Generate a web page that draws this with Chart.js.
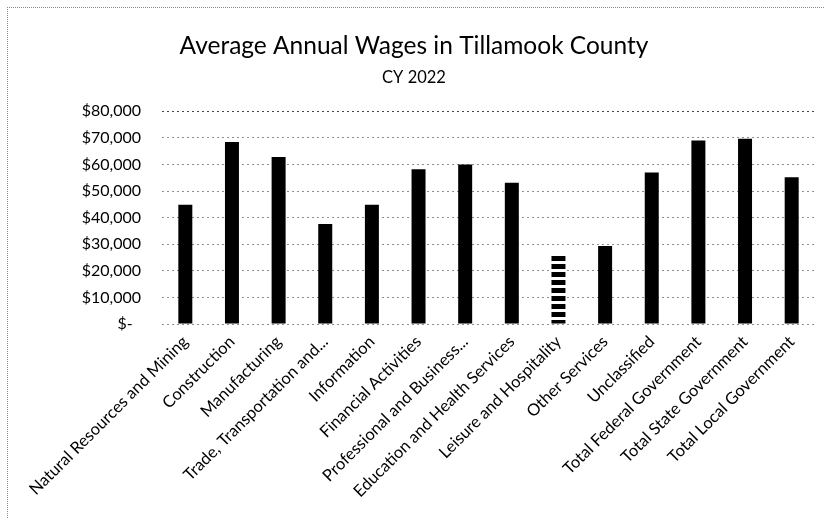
<!DOCTYPE html>
<html>
<head>
<meta charset="utf-8">
<script src="https://cdn.jsdelivr.net/npm/chart.js@4"></script>
<style>
  html, body { margin: 0; padding: 0; background: #fff; }
  #wrap { position: relative; width: 825px; height: 519px; overflow: hidden; }
  #frame { position: absolute; left: 7px; top: 7px; width: 830px; height: 530px;
           border-top: 1px dotted #8a8a8a; border-left: 1px dotted #8a8a8a; pointer-events: none; }
  canvas { display: block; }
</style>
</head>
<body>
<div id="wrap">
  <canvas id="c" width="825" height="519"></canvas>
  <div id="frame"></div>
</div>
<script>
// Industry sectors
const categories = [
  "Natural Resources and Mining",
  "Construction",
  "Manufacturing",
  "Trade, Transportation and...",
  "Information",
  "Financial Activities",
  "Professional and Business...",
  "Education and Health Services",
  "Leisure and Hospitality",
  "Other Services",
  "Unclassified",
  "Total Federal Government",
  "Total State Government",
  "Total Local Government"
];

// Average annual wage per sector, dollars
const wages = [44800, 68400, 62800, 37600, 44800, 58200, 60000, 53100, 26300, 29300, 57000, 69000, 69600, 55200];

// Value axis
const yMin = 0;
const yMax = 80000;
const yStep = 10000;

const chartTitle = "Average Annual Wages in Tillamook County";
const chartSubtitle = "CY 2022";

const FONT = "Lato, 'Open Sans', sans-serif";

// Striped fill for the leisure sector bar
function stripePattern() {
  const p = document.createElement('canvas');
  p.width = 8; p.height = 8;
  const g = p.getContext('2d');
  g.fillStyle = '#ffffff';
  g.fillRect(0, 0, 8, 8);
  g.fillStyle = '#000000';
  g.fillRect(0, 0, 8, 5);
  return g.createPattern(p, 'repeat');
}

const stripes = stripePattern();
const barColors = categories.map(c => c === "Leisure and Hospitality" ? stripes : '#000000');

function money(v) {
  if (v === 0) return "$-  ";
  return "$" + v.toLocaleString('en-US');
}

new Chart(document.getElementById('c'), {
  type: 'bar',
  data: {
    labels: categories,
    datasets: [{
      data: wages,
      backgroundColor: barColors,
      borderWidth: 0,
      categoryPercentage: 1.0,
      barPercentage: 0.3
    }]
  },
  options: {
    responsive: false,
    animation: false,
    devicePixelRatio: 1,
    layout: { padding: { left: 13, right: 10, top: 0, bottom: 0 } },
    plugins: {
      legend: { display: false },
      tooltip: { enabled: false },
      title: {
        display: true,
        text: chartTitle,
        color: '#000',
        font: { family: FONT, size: 24.5, weight: 'normal' },
        padding: { top: 31, bottom: 7 }
      },
      subtitle: {
        display: true,
        text: chartSubtitle,
        color: '#000',
        font: { family: FONT, size: 16.5, weight: 'normal' },
        padding: { top: 0, bottom: 24 }
      }
    },
    scales: {
      x: {
        grid: { display: false, drawTicks: false },
        border: { display: false },
        ticks: {
          color: '#000',
          font: { family: FONT, size: 16.5 },
          maxRotation: 45,
          minRotation: 45,
          autoSkip: false,
          padding: 8
        },
        afterFit: s => { s.height = 195; }
      },
      y: {
        min: yMin,
        max: yMax,
        border: { display: false, dash: [2, 3] },
        grid: {
          drawTicks: false,
          color: ctx => ctx.tick && ctx.tick.value === yMax ? '#444' : '#8c8c8c',
          lineWidth: 1
        },
        ticks: {
          stepSize: yStep,
          color: '#000',
          font: { family: FONT, size: 16 },
          padding: 21,
          callback: v => money(v)
        },
        afterFit: s => { s.width = 149; }
      }
    }
  }
});
</script>
</body>
</html>
